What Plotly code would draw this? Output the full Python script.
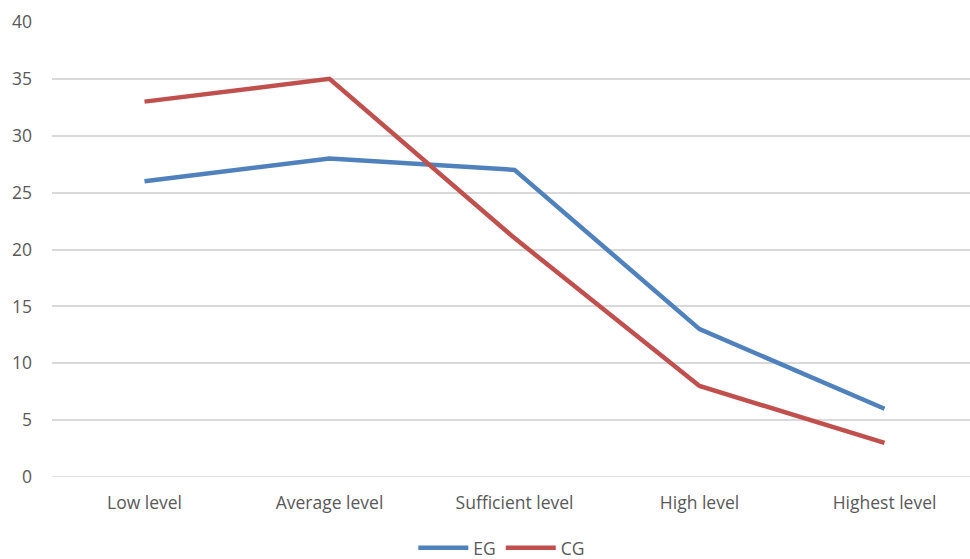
import plotly.graph_objects as go

categories = ["Low level", "Average level", "Sufficient level", "High level", "Highest level"]
eg_values = [26, 28, 27, 13, 6]
cg_values = [33, 35, 21, 8, 3]
y_ticks = [0, 5, 10, 15, 20, 25, 30, 35, 40]

FONT = "Open Sans"
TEXT = "#595959"
SIZE = 17.5

fig = go.Figure()
fig.add_trace(go.Scatter(x=categories, y=eg_values, name="EG", mode="lines",
                         line=dict(color="#4F81BD", width=4.5)))
fig.add_trace(go.Scatter(x=categories, y=cg_values, name="CG", mode="lines",
                         line=dict(color="#C0504D", width=4.5)))

fig.update_layout(
    width=970, height=559,
    margin=dict(l=52, r=0, t=22, b=82, autoexpand=False),
    paper_bgcolor="white", plot_bgcolor="white",
    font=dict(family=FONT, size=SIZE, color=TEXT),
    showlegend=True,
    legend=dict(orientation="h", x=0.49, xanchor="center",
                yref="container", y=0.02, yanchor="middle",
                font=dict(family=FONT, size=SIZE, color=TEXT), itemwidth=50,
                traceorder="normal"),
    xaxis=dict(type="category", range=[-0.5, 4.462], showgrid=False, automargin=False,
               showline=False, zeroline=False, ticks="", ticklabelstandoff=13,
               tickfont=dict(family=FONT, size=SIZE, color=TEXT)),
    yaxis=dict(range=[0, 40], tickvals=y_ticks, showgrid=True, gridcolor="#D9D9D9",
               gridwidth=1.5, zeroline=False, showline=False, ticks="", automargin=False,
               ticklabelstandoff=19,
               tickfont=dict(family=FONT, size=SIZE, color=TEXT)),
)
# baseline at zero
fig.add_shape(type="line", xref="paper", yref="y", x0=0, x1=1, y0=0, y1=0,
              line=dict(color="#D9D9D9", width=1.5), layer="below")

fig.write_html("out.html")
